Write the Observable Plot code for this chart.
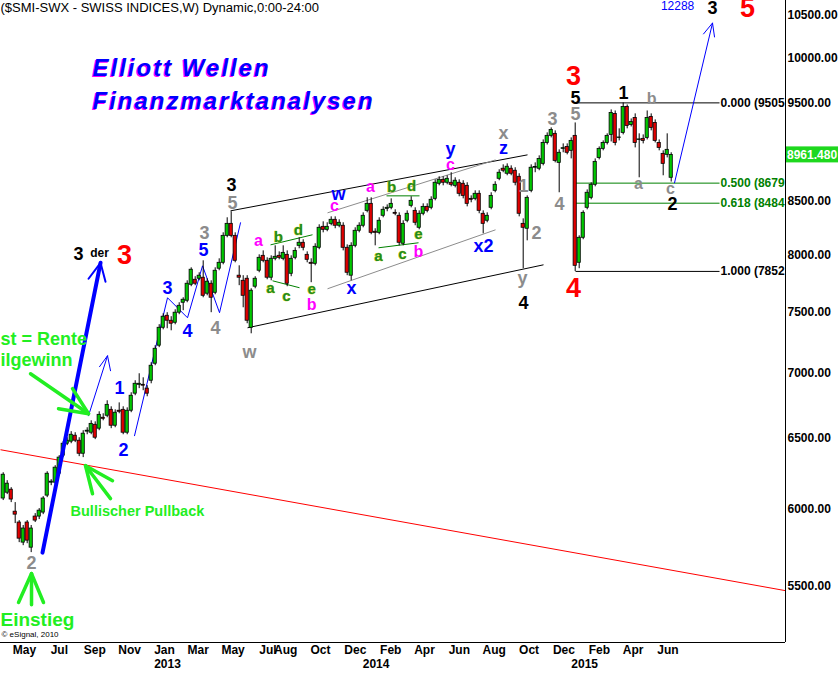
<!DOCTYPE html>
<html><head><meta charset="utf-8">
<script src="https://cdn.jsdelivr.net/npm/d3@7"></script>
<script src="https://cdn.jsdelivr.net/npm/@observablehq/plot@0.6"></script>
<style>html,body{margin:0;padding:0;background:#fff;overflow:hidden}svg{display:block}</style>
</head><body><div id="chart"></div>
<script>
// ---------- data (weekly SMI candles, first week ending 2012-04-20) ----------
const firstWeek = "2012-04-20";
const opens = [6071,6111,6132,5981,5908,5775,5908,5742,5948,5948,
5975,6091,6181,6181,6244,6373,6460,6475,6519,6482,
6387,6549,6541,6600,6571,6653,6668,6713,6593,6706,
6713,6541,6706,6837,6906,6906,6876,6938,7073,7219,
7367,7468,7426,7409,7494,7579,7596,7735,7779,7788,
7797,7657,7744,7665,7877,7930,8176,8288,8176,7815,
7770,7788,7367,7718,7859,7993,7948,7797,7966,7993,
7966,8002,7832,7975,8084,8112,8002,7930,7921,8066,
8260,8232,8288,8326,8270,8270,8066,7815,8084,8223,
8270,8411,8478,8214,8204,8364,8430,8440,8392,8364,
8103,8317,8459,8411,8251,8383,8449,8440,8526,8673,
8712,8683,8683,8653,8683,8673,8653,8526,8526,8575,
8383,8317,8440,8604,8722,8822,8772,8822,8802,8742,
8288,8242,8604,8832,8822,8871,9084,9157,9178,8881,
9023,9043,9003,9157,7930,8158,8440,8536,8663,8931,
9023,9084,9167,9387,9136,9188,9462,9271,9345,9115,
9126,9136,9356,9292,9084,8972,8962,8732];
const highs = [6251,6195,6146,6043,5921,5888,5921,5888,5968,6002,
6084,6258,6202,6301,6373,6475,6504,6549,6541,6504,
6556,6578,6630,6622,6698,6683,6782,6736,6713,6766,
6736,6728,6844,6938,6993,6961,6899,7081,7219,7393,
7485,7494,7460,7519,7579,7622,7770,7885,7806,7841,
7948,7788,7770,7885,7966,8204,8345,8402,8204,7903,
7815,7815,7700,7806,8002,8038,7975,7993,8084,8029,
8084,8038,7993,8066,8158,8140,8029,7966,8103,8279,
8307,8298,8354,8354,8326,8298,8093,8112,8251,8298,
8392,8536,8536,8242,8345,8449,8468,8526,8421,8392,
8317,8411,8546,8440,8411,8478,8478,8546,8712,8742,
8742,8752,8782,8732,8712,8703,8683,8555,8604,8604,
8411,8392,8585,8693,8812,8861,8871,8851,8832,8772,
8335,8555,8861,8881,8952,9115,9188,9240,9209,9013,
9074,9074,9136,9292,8176,8411,8613,8683,8921,9043,
9105,9178,9430,9419,9230,9505,9483,9334,9388,9178,
9167,9419,9388,9324,9115,9003,9178,8983];
const lows = [6057,6098,6043,5901,5775,5755,5768,5710,5908,5928,
5961,6077,6160,6167,6230,6359,6446,6460,6468,6366,
6359,6526,6526,6490,6556,6630,6653,6571,6578,6683,
6526,6526,6691,6821,6876,6860,6813,6914,7057,7203,
7350,7359,7342,7392,7477,7511,7579,7718,7727,7770,
7622,7639,7494,7648,7859,7912,8158,8158,7930,7727,
7536,7401,7317,7700,7841,7930,7779,7770,7948,7957,
7948,7718,7806,7957,8057,8038,7930,7753,7903,8048,
8204,8214,8270,8242,8251,8038,7815,7770,8066,8204,
8251,8392,8186,8084,8186,8345,8402,8421,8364,8084,
8084,8298,8440,8270,8232,8364,8392,8421,8507,8653,
8653,8663,8643,8633,8546,8526,8449,8488,8507,8383,
8195,8298,8421,8585,8703,8782,8752,8752,8653,8354,
7877,8130,8585,8782,8802,8851,9063,9136,8881,8585,
8983,8962,8921,7852,7877,8140,8421,8517,8643,8911,
9003,9063,9094,9054,9105,9167,9230,9250,9033,8732,
9074,9115,9209,9084,9003,8752,8931,8690];
const closes = [6237,6174,6064,5961,5801,5868,5788,5868,5921,5988,
6071,6244,6188,6287,6359,6460,6482,6526,6482,6387,
6534,6556,6607,6504,6675,6645,6751,6593,6691,6698,
6541,6706,6821,6914,6914,6899,6837,7057,7194,7367,
7460,7426,7401,7494,7553,7605,7744,7868,7744,7815,
7639,7762,7622,7859,7930,8176,8288,8176,7948,7797,
7639,7426,7683,7788,7975,7948,7797,7966,7984,7975,
8020,7744,7966,8038,8112,8066,7957,7921,8075,8251,
8232,8260,8326,8270,8298,8066,7841,8084,8223,8270,
8364,8478,8204,8204,8317,8421,8440,8478,8383,8112,
8288,8383,8507,8298,8383,8449,8411,8517,8683,8712,
8683,8722,8663,8703,8575,8555,8478,8517,8575,8411,
8288,8364,8555,8663,8782,8802,8842,8772,8683,8383,
8251,8536,8832,8840,8921,9084,9157,9219,8901,8983,
9030,8983,9105,7903,8158,8392,8585,8663,8891,9023,
9084,9157,9398,9084,9140,9462,9261,9303,9084,9120,
9105,9345,9240,9105,9033,8871,9013,8961.48];

// axis ticks (9000.00 is hidden under the last-price box in the reference)
const yTicks = [5500,6000,6500,7000,7500,8000,8500,9500,10000,10500];
const monthDates = ["2012-05-01","2012-07-01","2012-09-01","2012-11-01","2013-01-01","2013-03-01","2013-05-01","2013-07-01","2013-08-01","2013-10-01","2013-12-01","2014-02-01","2014-04-01","2014-06-01","2014-08-01","2014-10-01","2014-12-01","2015-02-01","2015-04-01","2015-06-01"];
const monthLabels = ["May","Jul","Sep","Nov","Jan","Mar","May","Jul","Aug","Oct","Dec","Feb","Apr","Jun","Aug","Oct","Dec","Feb","Apr","Jun"];
const yearDates = ["2013-01-01","2014-01-01","2015-01-01"];
const yearLabels = ["2013","2014","2015"];

// Fibonacci retracement
const fibHigh = 9505.5, fibLow = 7852.9;
const fibLevels = [0, 0.5, 0.618, 1];
const fibColors = ["#000000","#008000","#008000","#000000"];
const fibSpan = [143.08, 179.08]; // weeks

// wave labels: [week, price, text]
const blueLabels = [[29.1,6883,"1"],[30.1,6409,"2"],[41.1,7709,"3"],[46.1,7342,"4"],[50.1,8048,"5"],
  [83.8,8575,"w"],[87.1,7709,"x"],[111.8,9023,"y"],[125.1,9033,"z"],[120.1,8084,"x2"]];
const grayLabels = [[7.1,5639,"2"],[50.3,8204,"3"],[53.1,7367,"4"],[57.3,8488,"5"],[61.6,7162,"w"],
  [125.1,9188,"x"],[137.3,9334,"3"],[143.1,9388,"5"],[130.1,8652,"1"],[133.3,8204,"2"],[139.1,8478,"4"],[129.8,7796,"y"]];
const graySmall = [[158.8,8672,"a"],[162.1,9548,"b"],[166.8,8623,"c"]];
const blackLabels = [[57.1,8662,"3"],[18.8,8011,"3"],[130.1,7579,"4"],[143.1,9559,"5"],[155.1,9613,"1"],[167.3,8478,"2"],[177.3,10585,"3"]];
const derLabel = [[24.1,8020,"der"]];
const redLabels = [[30.3,7993,"3"],[142.6,9800,"3"],[142.6,7700,"4"],[186.1,10585,"5"]];
const magentaLabels = [[63.8,8130,"a"],[77.1,7562,"b"],[82.8,8459,"c"],[91.8,8643,"a"],[103.8,8030,"b"],[111.8,8861,"c"]];
const greenLabels = [[68.8,8167,"b"],[73.8,8232,"d"],[66.8,7709,"a"],[70.8,7639,"c"],[77.1,7700,"e"],
  [97.1,8643,"b"],[102.1,8652,"d"],[93.8,7993,"a"],[99.8,8011,"c"],[103.8,8195,"e"]];
const targetLabel = [[168.6,10609,"12288"]];
const limeTexts = [[-0.675,7276,"st = Rente",18],[-0.675,7105,"ilgewinn",18],[16.83,5981,"Bullischer Pullback",14.5],[-0.675,5293,"Einstieg",19]];

// drawn lines: [week1, price1, week2, price2]
const blackLines = [[56.83,8411,131.08,8962],[61.08,7367,135.08,7912]];
const grayLines = [[81.08,8392,123.08,8911],[81.08,7700,123.08,8232]];
const greenLines = [[66.83,8093,77.33,8186],[67.33,7770,74.08,7709],[95.83,8555,104.08,8555],[93.83,8066,103.83,8112]];
const redLines = [[-0.675,6416,195.58,5469]];
// polylines: [week, price]
const blueZigzag = [[32.83,6519],[41.08,7622],[46.08,7451],[49.83,7903],[54.08,7494],[59.33,8298]];
const blueArrow1 = [[21.33,6668],[26.08,7137]];
const blueArrow1Head = [[24.08,7049],[26.08,7137],[26.83,7017]];
const blueArrow2 = [[167.83,8682],[177.33,10406]];
const blueArrow2Head = [[175.08,10278],[177.33,10406],[177.83,10243]];
const thickArrow = [[9.83,5710],[24.33,7930]];
const thickArrowHead = [[21.33,7788],[24.33,7930],[25.58,7762]];
const limeArrows = [
  [[6.83,6993],[21.33,6683]], [[17.33,6876],[21.33,6683],[13.83,6721]],
  [[26.83,6070],[20.58,6301]], [[22.33,6104],[20.58,6301],[27.33,6195]],
  [[7.08,5383],[7.08,5576]], [[3.83,5396],[7.08,5576],[10.08,5396]]
];

// ---------- layout ----------
const W = 838, H = 673, MR = 53, MB = 31;
const yDomain = [5157, 10675];
const WEEK = 7 * 864e5;
const week0 = new Date(firstWeek + "T00:00:00Z").getTime();
const wk = w => new Date(week0 + w * WEEK);
const xDomain = [wk(-0.675), wk(195.575)];
const FONT = "'Liberation Sans', Arial, Helvetica, sans-serif";

const candles = opens.map((o, i) => ({date: wk(i), x1: wk(i - 0.4), x2: wk(i + 0.4), open: o, high: highs[i], low: lows[i], close: closes[i], up: closes[i] >= o}));
const seg = a => a.map(([w1,p1,w2,p2]) => ({x1: wk(w1), y1: p1, x2: wk(w2), y2: p2}));
const pts = a => a.map(([w,p]) => ({x: wk(w), y: p}));
const lab = a => a.map(([w,p,t,s]) => ({x: wk(w), y: p, t, s}));
// label text as visible in the reference (cut at the price-axis edge)
const fib = fibLevels.map((l, i) => {
  const v = fibHigh - l * (fibHigh - fibLow);
  return {x1: wk(fibSpan[0]), x2: wk(fibSpan[1]), xl: wk(fibSpan[1] + 0.25), y: v, c: fibColors[i], t: `${l.toFixed(3)} (${Math.floor(v)}`};
});
const months = monthDates.map((d, i) => ({x: new Date(d + "T00:00:00Z"), t: monthLabels[i]}));
const years = yearDates.map((d, i) => ({x: new Date(d + "T00:00:00Z"), t: yearLabels[i]}));

const txt = (data, fill, size, extra = {}) => Plot.text(lab(data), {x: "x", y: "y", text: "t", fill, fontSize: size, fontWeight: "bold", ...extra});
const titleMark = (s, dx, dy, fill) => Plot.text([s], {frameAnchor: "top-left", textAnchor: "start", lineAnchor: "middle", dx, dy, fontSize: 24, fontWeight: "bold", fontStyle: "italic", fill});

const chart = Plot.plot({
  width: W, height: H,
  marginLeft: 0, marginRight: MR, marginTop: 0, marginBottom: MB,
  style: {fontFamily: FONT, fontSize: "12px", background: "#fff", color: "#000"},
  x: {type: "utc", domain: xDomain, axis: null},
  y: {type: "log", domain: yDomain, axis: null},
  marks: [
    Plot.ruleY([yDomain[0]], {stroke: "#000"}),
    Plot.ruleX([xDomain[1]], {stroke: "#000"}),
    Plot.link(seg(redLines), {x1: "x1", y1: "y1", x2: "x2", y2: "y2", stroke: "#ff0000", strokeWidth: 1, clip: true}),
    Plot.link(seg(blackLines), {x1: "x1", y1: "y1", x2: "x2", y2: "y2", stroke: "#000", strokeWidth: 1}),
    Plot.link(seg(grayLines), {x1: "x1", y1: "y1", x2: "x2", y2: "y2", stroke: "#8c8c8c", strokeWidth: 1}),
    Plot.link(seg(greenLines), {x1: "x1", y1: "y1", x2: "x2", y2: "y2", stroke: "#008000", strokeWidth: 1}),
    Plot.link(fib, {x1: "x1", x2: "x2", y1: "y", y2: "y", stroke: "c", strokeWidth: 1}),
    Plot.line(pts(blueZigzag), {x: "x", y: "y", stroke: "#0000ff", strokeWidth: 1}),
    Plot.line(pts(blueArrow1), {x: "x", y: "y", stroke: "#0000ff", strokeWidth: 1}),
    Plot.line(pts(blueArrow1Head), {x: "x", y: "y", stroke: "#0000ff", strokeWidth: 1}),
    Plot.line(pts(blueArrow2), {x: "x", y: "y", stroke: "#0000ff", strokeWidth: 1}),
    Plot.line(pts(blueArrow2Head), {x: "x", y: "y", stroke: "#0000ff", strokeWidth: 1}),
    Plot.ruleX(candles, {x: "date", y1: "low", y2: "high", stroke: "#000", strokeWidth: 1}),
    Plot.rect(candles, {x1: "x1", x2: "x2", y1: "open", y2: "close", fill: d => d.up ? "#00c800" : "#e00000", stroke: "#000", strokeWidth: 0.8}),
    Plot.line(pts(thickArrow), {x: "x", y: "y", stroke: "#0000ff", strokeWidth: 4}),
    Plot.line(pts(thickArrowHead), {x: "x", y: "y", stroke: "#0000ff", strokeWidth: 2}),
    ...limeArrows.map(a => Plot.line(pts(a), {x: "x", y: "y", stroke: "#22ee22", strokeWidth: 3.5, strokeLinecap: "round", strokeLinejoin: "round"})),
    txt(blueLabels, "#0000ff", 18),
    txt(grayLabels, "#8c8c8c", 18),
    txt(graySmall, "#8c8c8c", 16),
    txt(blackLabels, "#000", 18),
    txt(derLabel, "#000", 12),
    txt(redLabels, "#ff0000", 27),
    txt(magentaLabels, "#ff00ff", 16),
    txt(greenLabels, "#1f8c1f", 15, {stroke: "#d6d600", strokeWidth: 0.7, paintOrder: "stroke"}),
    Plot.text(lab(targetLabel), {x: "x", y: "y", text: "t", fill: "#0000ff", fontSize: 12}),
    ...lab(limeTexts).map(d => Plot.text([d], {x: "x", y: "y", text: "t", fill: "#22ee22", fontSize: d.s, fontWeight: "bold", textAnchor: "start"})),
    Plot.text(fib, {x: "xl", y: "y", text: "t", fill: "c", fontSize: 12, fontWeight: "bold", textAnchor: "start"}),
    Plot.text(yTicks, {y: d => d, text: d => d.toFixed(2), frameAnchor: "right", textAnchor: "start", dx: 2, fontSize: 12, fontWeight: "bold", fill: "#000"}),
    Plot.text(months, {x: "x", text: "t", frameAnchor: "bottom", dy: 11, dx: 15, fontSize: 12, fontWeight: "bold", fill: "#000"}),
    Plot.text(years, {x: "x", text: "t", frameAnchor: "bottom", dy: 25, dx: 18, fontSize: 12, fontWeight: "bold", fill: "#000"}),
    Plot.text(["($SMI-SWX - SWISS INDICES,W) Dynamic,0:00-24:00"], {frameAnchor: "top-left", textAnchor: "start", lineAnchor: "middle", dx: 0, dy: 7, fontSize: 13, fill: "#000"}),
    titleMark("Elliott Wellen", 91, 69, "#ff00ff"),
    titleMark("Finanzmarktanalysen", 91, 102, "#ff00ff"),
    titleMark("Elliott Wellen", 92, 68, "#0000ff"),
    titleMark("Finanzmarktanalysen", 92, 101, "#0000ff"),
    Plot.text(["© eSignal, 2010"], {frameAnchor: "bottom-left", textAnchor: "start", lineAnchor: "middle", dx: 1, dy: -8, fontSize: 8, fill: "#000"})
  ]
});
document.getElementById("chart").append(chart);

// ---------- post layout: title spacing, last price box ----------
const svg = d3.select(chart);
svg.selectAll("text").filter(function() {
  return this.textContent === "Elliott Wellen" || this.textContent === "Finanzmarktanalysen";
}).attr("letter-spacing", "2px");
const ys = chart.scale ? chart.scale("y") : null;
const lastPrice = closes[closes.length - 1];
const yPx = ys && ys.apply ? ys.apply(lastPrice) : d3.scaleLog().domain(yDomain).range([H - MB, 0])(lastPrice);
svg.append("rect").attr("x", W - MR + 1).attr("y", yPx - 8).attr("width", MR).attr("height", 16).attr("fill", "#1ed81e");
svg.append("text").attr("x", W - MR + 2).attr("y", yPx).attr("dy", "0.35em").attr("text-anchor", "start")
  .attr("fill", "#ffffff").attr("font-weight", "bold").attr("font-size", 12).attr("font-family", FONT)
  .text(lastPrice.toFixed(3));
</script>
</body></html>
